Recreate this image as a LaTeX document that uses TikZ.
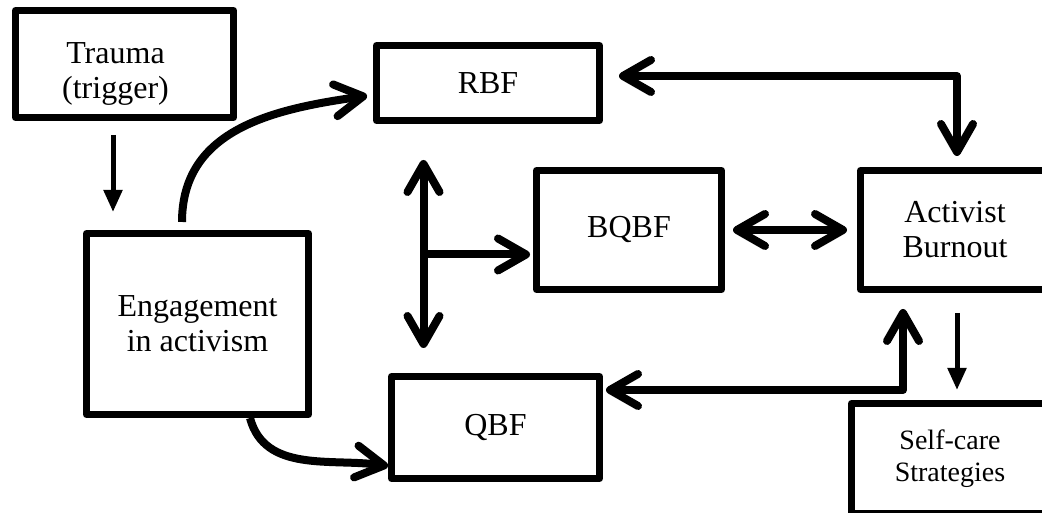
\documentclass[tikz,border=0pt]{standalone}
\usepackage{fontspec}
\setmainfont{Liberation Serif}
\usetikzlibrary{arrows.meta}
\begin{document}
\begin{tikzpicture}[x=1pt,y=1pt,
  box/.style={draw, line width=7pt, line join=round, inner sep=0pt, align=center,
    font=\fontsize{32}{35}\selectfont},
  barb/.tip={Straight Barb[length=28pt,width=32pt,round]},
  thickarr/.style={line width=8pt, line join=round, -barb},
  biarr/.style={line width=8pt, line join=round, barb-barb},
  thinarr/.style={line width=5pt, -{Triangle[length=22pt,width=18pt]}}
]
\useasboundingbox (0,0) rectangle (1042,513);
\node[box, minimum width=218pt, minimum height=107pt] (trauma) at (124.5,449)
  {\rule{0pt}{40pt}Trauma\hspace*{18pt}\\(trigger)\hspace*{18pt}};
\node[box, minimum width=223pt, minimum height=75pt] (rbf) at (488,430) {RBF};
\node[box, minimum width=222pt, minimum height=181pt] (eng) at (197.5,189) {Engagement\\in activism};
\node[box, minimum width=185pt, minimum height=119pt] (bqbf) at (629,283) {BQBF};
\node[box, minimum width=189pt, minimum height=119pt] (act) at (955,283) {Activist\\Burnout};
\node[box, minimum width=208pt, minimum height=102pt] (qbf) at (495.5,85.5) {QBF};
\node[box, font=\fontsize{28}{32}\selectfont, minimum width=197pt, minimum height=110pt] (self) at (950,54.5) {Self-care\\Strategies};

\draw[thinarr, shorten <=14pt, shorten >=18pt] ([xshift=-11.5pt]trauma.south) -- ([xshift=-84.5pt]eng.north);
\draw[thickarr, shorten <=8pt, shorten >=6pt] ([xshift=-15.5pt]eng.north) to[out=90,in=188,looseness=1.1] ([yshift=-12pt]rbf.west);
\draw[thickarr] ([xshift=52.5pt]eng.south) to[out=-75,in=172] ([yshift=-38.5pt]qbf.west);
\draw[biarr, shorten <=16pt, shorten >=11pt] ([yshift=7pt]rbf.east) -| ([xshift=2pt]act.north);
\draw[biarr, shorten <=36pt, shorten >=25pt] ([xshift=-64.5pt]rbf.south) -- ([xshift=-72pt]qbf.north);
\coordinate (br) at (423.5,258.5);
\draw[thickarr, shorten >=3pt] (br) -- (br -| bqbf.west);
\draw[biarr, shorten <=8pt, shorten >=10pt] (bqbf.east) -- (act.west);
\draw[biarr, shorten <=16pt, shorten >=3pt] ([xshift=-52pt]act.south) |- ([yshift=37.5pt]qbf.east);
\draw[thinarr, shorten <=20pt, shorten >=10pt] ([xshift=2pt]act.south) -- ([xshift=7pt]self.north);
\end{tikzpicture}
\end{document}
